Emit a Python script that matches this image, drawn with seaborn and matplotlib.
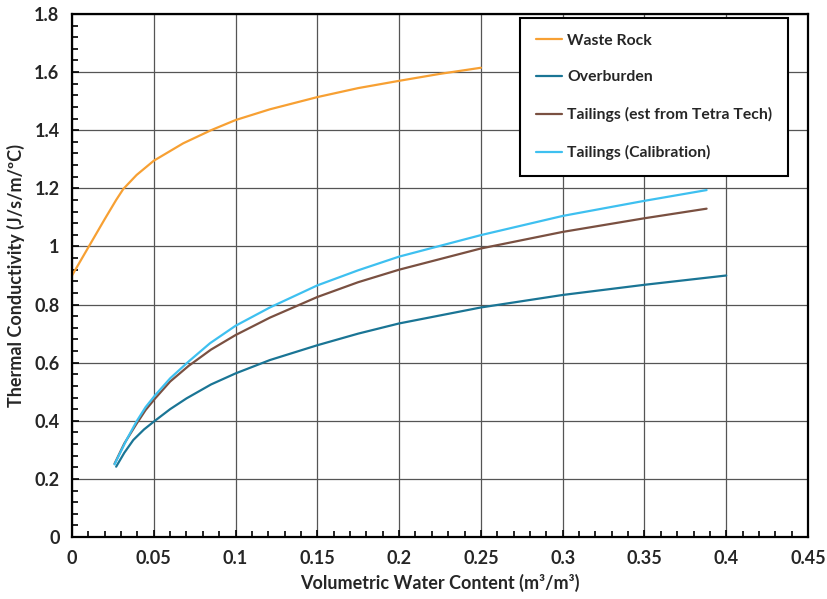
import matplotlib
matplotlib.use("Agg")
import matplotlib.pyplot as plt
from matplotlib.ticker import MultipleLocator
import seaborn as sns
import pandas as pd

# ---- data ----
waste_x = [0.0, 0.01, 0.02, 0.027, 0.0314, 0.0395, 0.05, 0.068, 0.085, 0.1, 0.121, 0.15, 0.175, 0.2, 0.225, 0.25]
waste_y = [0.90, 0.997, 1.094, 1.16, 1.198, 1.246, 1.295, 1.355, 1.40, 1.435, 1.472, 1.514, 1.545, 1.57, 1.594, 1.615]

over_x = [0.027, 0.032, 0.0375, 0.044, 0.05, 0.06, 0.07, 0.085, 0.1, 0.121, 0.15, 0.175, 0.2, 0.25, 0.3, 0.35, 0.4]
over_y = [0.242, 0.29, 0.334, 0.37, 0.397, 0.44, 0.477, 0.525, 0.563, 0.609, 0.66, 0.70, 0.735, 0.79, 0.833, 0.868, 0.90]

tail_x = [0.026, 0.032, 0.0395, 0.045, 0.0507, 0.06, 0.0711, 0.085, 0.1, 0.121, 0.15, 0.175, 0.2, 0.25, 0.3, 0.35, 0.388]
tail_y = [0.252, 0.322, 0.39, 0.437, 0.476, 0.535, 0.588, 0.645, 0.695, 0.755, 0.826, 0.877, 0.92, 0.993, 1.05, 1.097, 1.13]

cal_x = [0.026, 0.0334, 0.0395, 0.045, 0.0507, 0.06, 0.0711, 0.0844, 0.1, 0.121, 0.15, 0.175, 0.2, 0.25, 0.3, 0.35, 0.388]
cal_y = [0.25, 0.335, 0.398, 0.447, 0.487, 0.546, 0.603, 0.667, 0.727, 0.79, 0.866, 0.918, 0.965, 1.039, 1.105, 1.157, 1.194]

series_names = ["Waste Rock", "Overburden", "Tailings (est from Tetra Tech)", "Tailings (Calibration)"]
series_colors = ["#F7A033", "#1A7595", "#7A5041", "#3EC0F0"]

x_ticks = [0, 0.05, 0.1, 0.15, 0.2, 0.25, 0.3, 0.35, 0.4, 0.45]
x_tick_labels = ["0", "0.05", "0.1", "0.15", "0.2", "0.25", "0.3", "0.35", "0.4", "0.45"]
y_ticks = [0, 0.2, 0.4, 0.6, 0.8, 1.0, 1.2, 1.4, 1.6, 1.8]
y_tick_labels = ["0", "0.2", "0.4", "0.6", "0.8", "1", "1.2", "1.4", "1.6", "1.8"]

frames = []
for name, xs, ys in zip(series_names,
                        [waste_x, over_x, tail_x, cal_x],
                        [waste_y, over_y, tail_y, cal_y]):
    frames.append(pd.DataFrame({"x": xs, "y": ys, "series": name}))
df = pd.concat(frames, ignore_index=True)

sns.set_theme(style="white")
plt.rcParams["font.family"] = ["Lato", "DejaVu Sans"]
plt.rcParams["font.weight"] = "bold"

fig = plt.figure(figsize=(8.27, 5.99), dpi=100)
ax = fig.add_axes([72/827, 1-537/599, (808-72)/827, (537-14)/599])

sns.lineplot(data=df, x="x", y="y", hue="series", hue_order=series_names,
             palette=dict(zip(series_names, series_colors)), sort=False,
             estimator=None, linewidth=1.6, ax=ax)

ax.set_xlim(0, 0.45)
ax.set_ylim(0, 1.8)
ax.set_xticks(x_ticks)
ax.set_xticklabels(x_tick_labels)
ax.set_yticks(y_ticks)
ax.set_yticklabels(y_tick_labels)
ax.xaxis.set_minor_locator(MultipleLocator(0.01))
ax.yaxis.set_minor_locator(MultipleLocator(0.04))
ax.tick_params(which="both", direction="in", color="black", width=1.2,
               bottom=True, left=True, top=False, right=False)
ax.tick_params(which="major", length=5, labelsize=13, pad=9)
ax.tick_params(which="minor", length=4)
for lab in ax.get_xticklabels() + ax.get_yticklabels():
    lab.set_fontweight("bold")

ax.grid(True, which="major", color="#555555", linewidth=0.9)
for sp in ax.spines.values():
    sp.set_visible(True)
    sp.set_color("black")
    sp.set_linewidth(1.6)

ax.set_xlabel("Volumetric Water Content (m³/m³)", fontsize=13, fontweight="bold", labelpad=5)
ax.set_ylabel("Thermal Conductivity (J/s/m/ºC)", fontsize=13, fontweight="bold", labelpad=7)

leg = ax.legend(loc="upper left", bbox_to_anchor=((520-72)/736, (537-18)/523),
                frameon=True, fancybox=False, edgecolor="black", framealpha=1,
                fontsize=11.3, labelspacing=1.45, handlelength=1.7, handletextpad=0.3,
                borderpad=1.0, borderaxespad=0)
leg.get_frame().set_linewidth(1.5)
for t in leg.get_texts():
    t.set_fontweight("bold")
for line in leg.get_lines():
    line.set_linewidth(1.6)

fig.savefig("out.png", dpi=100)
